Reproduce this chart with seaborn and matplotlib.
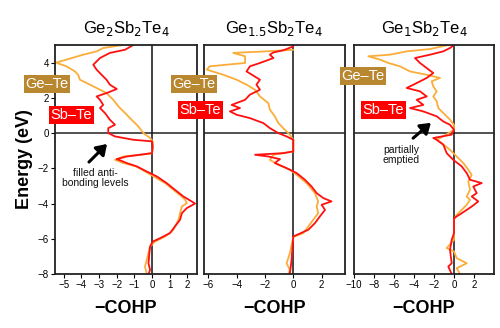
import numpy as np
import pandas as pd
import matplotlib
matplotlib.use("Agg")
import matplotlib.pyplot as plt
import seaborn as sns

sns.set_theme(style="white")
plt.rcParams['font.family'] = ['Liberation Sans', 'DejaVu Sans']
plt.rcParams['text.color'] = '#000000'
plt.rcParams['axes.labelcolor'] = '#000000'

# ---------------- data ----------------
titles = ["Ge$_2$Sb$_2$Te$_4$", "Ge$_{1.5}$Sb$_2$Te$_4$", "Ge$_1$Sb$_2$Te$_4$"]

# Panel 1: Ge2Sb2Te4
p1_sbte_e = [5.0, 4.73, 4.55, 4.26, 3.88, 3.6, 3.31, 3.03, 2.75, 2.5, 2.27, 2.08, 1.89, 1.6, 1.42, 1.14,
             0.76, 0.47, 0.28, 0.0, -0.19, -0.38, -0.47, -0.76, -1.14, -1.23, -1.33, -1.48, -1.55, -1.7,
             -1.89, -2.18, -2.46, -2.84, -3.22, -3.6, -3.88, -4.0, -4.26, -4.55, -4.92, -5.3, -5.68,
             -5.97, -6.16, -6.44, -6.82, -7.39, -7.77, -8.0]
p1_sbte_c = [-1.06, -1.53, -2.39, -2.95, -3.33, -3.14, -2.86, -2.58, -2.39, -2.0, -2.58, -3.14, -2.95,
             -2.77, -2.95, -2.67, -2.39, -2.1, -2.48, -2.48, -2.1, -1.06, 0.0, 0.04, 0.0, -0.68, -1.44,
             -2.0, -1.8, -1.44, -0.87, -0.3, 0.27, 0.83, 1.3, 1.78, 2.25, 2.44, 1.97, 1.69, 1.59, 1.3,
             1.02, 0.45, 0.04, -0.11, -0.15, -0.2, -0.11, -0.2]
p1_gete_e = [5.0, 4.83, 4.64, 4.45, 4.17, 4.0, 3.79, 3.5, 3.31, 3.03, 2.75, 2.46, 2.27, 1.89, 1.52, 1.14,
             0.76, 0.38, 0.0, -0.28, -0.47, -0.76, -1.14, -1.23, -1.33, -1.52, -1.7, -1.89, -2.18, -2.84,
             -3.6, -3.79, -3.98, -4.17, -4.55, -4.92, -5.49, -5.87, -6.16, -6.44, -7.2, -7.58, -8.0]
p1_gete_c = [-1.63, -2.77, -3.14, -3.9, -4.85, -5.45, -4.85, -4.37, -4.19, -4.09, -3.52, -2.95, -2.58,
             -2.2, -1.91, -1.53, -1.16, -0.78, -0.49, -0.11, 0.04, 0.04, 0.0, -0.6, -1.63, -2.1, -1.63,
             -0.9, -0.4, 0.74, 1.68, 1.88, 1.97, 1.69, 1.59, 1.5, 1.21, 0.74, 0.17, -0.11, -0.3, -0.4, -0.3]

# Panel 2: Ge1.5Sb2Te4
p2_sbte_e = [4.92, 4.7, 4.58, 4.45, 4.26, 3.98, 3.79, 3.5, 3.03, 2.75, 2.46, 2.18, 1.89, 1.6, 1.42, 1.23,
             1.04, 0.85, 0.57, 0.28, 0.0, -0.19, -0.38, -1.04, -1.14, -1.23, -1.33, -1.48, -1.7, -1.99,
             -2.27, -2.65, -3.03, -3.41, -3.69, -3.88, -4.07, -4.36, -4.73, -5.11, -5.49, -5.87, -6.44,
             -7.2, -8.0]
p2_sbte_c = [0.0, -0.7, -1.4, -1.65, -1.4, -2.35, -3.06, -3.3, -2.35, -2.6, -2.35, -3.06, -3.4, -4.35,
             -3.76, -4.47, -4.0, -3.06, -2.12, -1.65, -1.06, -0.47, 0.0, 0.0, -0.7, -2.7, -1.76, -0.94,
             -1.3, -0.47, 0.24, 0.82, 1.29, 1.65, 2.12, 2.7, 2.0, 2.24, 1.88, 1.53, 1.06, 0.0, -0.05,
             -0.12, -0.24]
p2_gete_e = [4.73, 4.64, 4.55, 4.36, 3.98, 3.79, 3.6, 3.31, 3.03, 2.75, 2.46, 2.08, 1.7, 1.33, 0.95, 0.57,
             0.19, -0.09, -0.38, -1.04, -1.23, -1.52, -1.8, -2.08, -2.37, -2.84, -3.41, -3.88, -4.17,
             -4.55, -4.92, -5.3, -5.68, -5.9, -6.82, -7.39, -7.77, -8.0]
p2_gete_c = [0.0, -1.9, -4.24, -3.4, -3.4, -5.9, -6.1, -4.94, -4.0, -3.3, -2.7, -2.35, -1.76, -1.65, -1.3,
             -1.06, -0.6, -0.24, 0.0, 0.0, -1.4, -1.65, -1.06, -0.24, 0.24, 0.94, 1.53, 1.76, 1.65, 1.76,
             1.41, 1.06, 0.7, 0.0, -0.24, -0.47, -0.24, -0.35]

# Panel 3: Ge1Sb2Te4
p3_sbte_e = [5.0, 4.83, 4.64, 4.45, 4.26, 3.98, 3.69, 3.41, 3.13, 2.84, 2.56, 2.37, 2.08, 1.89, 1.6, 1.42,
             1.23, 0.95, 0.66, 0.47, 0.19, -0.09, -0.28, -0.38, -0.66, -1.14, -1.52, -1.89, -2.27, -2.65,
             -2.84, -3.03, -3.41, -3.6, -3.88, -4.17, -4.55, -4.83, -5.68, -6.06, -6.63, -7.39, -7.58,
             -8.0]
p3_sbte_c = [0.0, -0.4, -1.07, -2.4, -3.9, -3.4, -2.73, -2.07, -2.73, -3.73, -4.73, -3.4, -2.73, -3.73,
             -3.07, -4.4, -3.07, -1.73, -1.07, -0.4, 0.0, -0.23, -2.07, -1.73, -1.07, -0.73, -0.07, 0.77,
             1.27, 1.6, 2.77, 1.93, 2.27, 1.77, 2.43, 1.77, 0.77, 0.0, 0.0, -0.23, -0.4, -0.23, -0.57,
             -0.23]
p3_gete_e = [5.0, 4.77, 4.64, 4.45, 4.36, 4.17, 3.98, 3.79, 3.5, 3.31, 3.13, 2.94, 2.65, 2.37, 2.08, 1.8,
             1.42, 1.14, 0.76, 0.47, 0.19, -0.19, -0.38, -0.57, -0.95, -1.33, -1.7, -2.08, -2.37, -2.75,
             -3.22, -3.6, -3.79, -4.07, -4.36, -4.64, -4.92, -6.06, -6.53, -6.72, -7.1, -7.39, -7.67,
             -8.0]
p3_gete_c = [-0.57, -2.4, -4.73, -6.4, -8.57, -7.4, -6.57, -5.4, -4.4, -2.73, -1.4, -2.23, -2.07, -1.73,
             -2.07, -1.73, -1.57, -1.07, -0.4, 0.0, 0.0, -1.07, -1.73, -1.23, -0.4, 0.27, 0.93, 1.43,
             1.77, 1.43, 1.6, 1.27, 1.6, 1.27, 0.77, 0.27, 0.0, 0.0, -0.73, 0.0, 0.27, 1.27, 0.27, 0.6]

xlims = [(-5.5, 2.55), (-6.3, 3.65), (-10.0, 4.0)]
xticks = [[-5, -4, -3, -2, -1, 0, 1, 2], [-6, -4, -2, 0, 2], [-10, -8, -6, -4, -2, 0, 2]]
yticks = [-8, -6, -4, -2, 0, 2, 4]

# ---------------- build tidy frame ----------------
rows = []
panels = [(p1_gete_e, p1_gete_c, p1_sbte_e, p1_sbte_c),
          (p2_gete_e, p2_gete_c, p2_sbte_e, p2_sbte_c),
          (p3_gete_e, p3_gete_c, p3_sbte_e, p3_sbte_c)]
for i, (ge_e, ge_c, sb_e, sb_c) in enumerate(panels):
    for k, (e, c) in enumerate(zip(ge_e, ge_c)):
        rows.append(dict(panel=i, bond="Ge–Te", energy=e, cohp=c, order=k))
    for k, (e, c) in enumerate(zip(sb_e, sb_c)):
        rows.append(dict(panel=i, bond="Sb–Te", energy=e, cohp=c, order=k))
df = pd.DataFrame(rows)

line_colors = {"Ge–Te": "#fbad3a", "Sb–Te": "#ff1010"}
box_colors = {"Ge–Te": "#b8872f", "Sb–Te": "#ff0000"}

fig = plt.figure(figsize=(5.0, 3.28), dpi=100)
W, H = 500, 328
ax_px = [(55, 197), (204, 345), (354, 494)]
top, bot = 45, 274
axes = []
for (l, r) in ax_px:
    ax = fig.add_axes([l / W, 1 - bot / H, (r - l) / W, (bot - top) / H])
    axes.append(ax)

for i, ax in enumerate(axes):
    sub = df[df.panel == i]
    for bond in ["Ge–Te", "Sb–Te"]:
        s = sub[sub.bond == bond].sort_values("order")
        sns.lineplot(data=s, x="cohp", y="energy", sort=False, estimator=None,
                     color=line_colors[bond], lw=1.3, ax=ax, legend=False)
    ax.axhline(0, color="#222222", lw=1.1, zorder=0)
    ax.axvline(0, color="#111111", lw=1.1, zorder=0)
    ax.set_xlim(*xlims[i])
    ax.set_ylim(-8, 5)
    ax.set_xticks(xticks[i])
    ax.set_xticklabels([f"{t}".replace("-", "\u2212") for t in xticks[i]], fontsize=7)
    ax.set_xlabel("\u2212COHP", fontsize=13, fontweight="bold", labelpad=7)
    ax.set_title(titles[i], fontsize=12, pad=9, color="black")
    if i == 0:
        ax.set_yticks(yticks)
        ax.set_yticklabels([f"{t}".replace("-", "\u2212") for t in yticks], fontsize=7)
        ax.set_ylabel("Energy (eV)", fontsize=13, fontweight="bold", labelpad=3)
    else:
        ax.set_yticks([])
        ax.set_ylabel("")
    ax.tick_params(axis="both", direction="out", length=3, width=0.8, pad=1.5,
                   bottom=True, left=(i == 0), colors="#000000")
    for sp in ax.spines.values():
        sp.set_color("#222222")
        sp.set_linewidth(1.3)

# bond labels (figure pixel positions)
label_pos = [((47, 84), (71, 115)), ((194, 84), (200, 110)), ((363, 76), (383, 110))]
for (ge, sb) in label_pos:
    for (px, py), bond in zip((ge, sb), ["Ge–Te", "Sb–Te"]):
        fig.text(px / W, 1 - py / H, bond, ha="center", va="center", color="white",
                 fontsize=10.5,
                 bbox=dict(boxstyle="square,pad=0.12", fc=box_colors[bond], ec="none"))

# annotations
fig.text(95 / W, 1 - 178 / H, "filled anti-\nbonding levels", ha="center", va="center",
         fontsize=7.5, linespacing=0.95, color="#111111")
fig.add_artist(matplotlib.patches.FancyArrowPatch((87 / W, 1 - 164 / H), (109 / W, 1 - 142 / H),
               transform=fig.transFigure, arrowstyle="-|>,head_length=6,head_width=4",
               color="black", lw=2.2))
fig.text(401 / W, 1 - 155 / H, "partially\nemptied", ha="center", va="center",
         fontsize=7.5, linespacing=0.95, color="#111111")
fig.add_artist(matplotlib.patches.FancyArrowPatch((411 / W, 1 - 140 / H), (433 / W, 1 - 121 / H),
               transform=fig.transFigure, arrowstyle="-|>,head_length=6,head_width=4",
               color="black", lw=2.2))

fig.savefig("out.png", dpi=100)
